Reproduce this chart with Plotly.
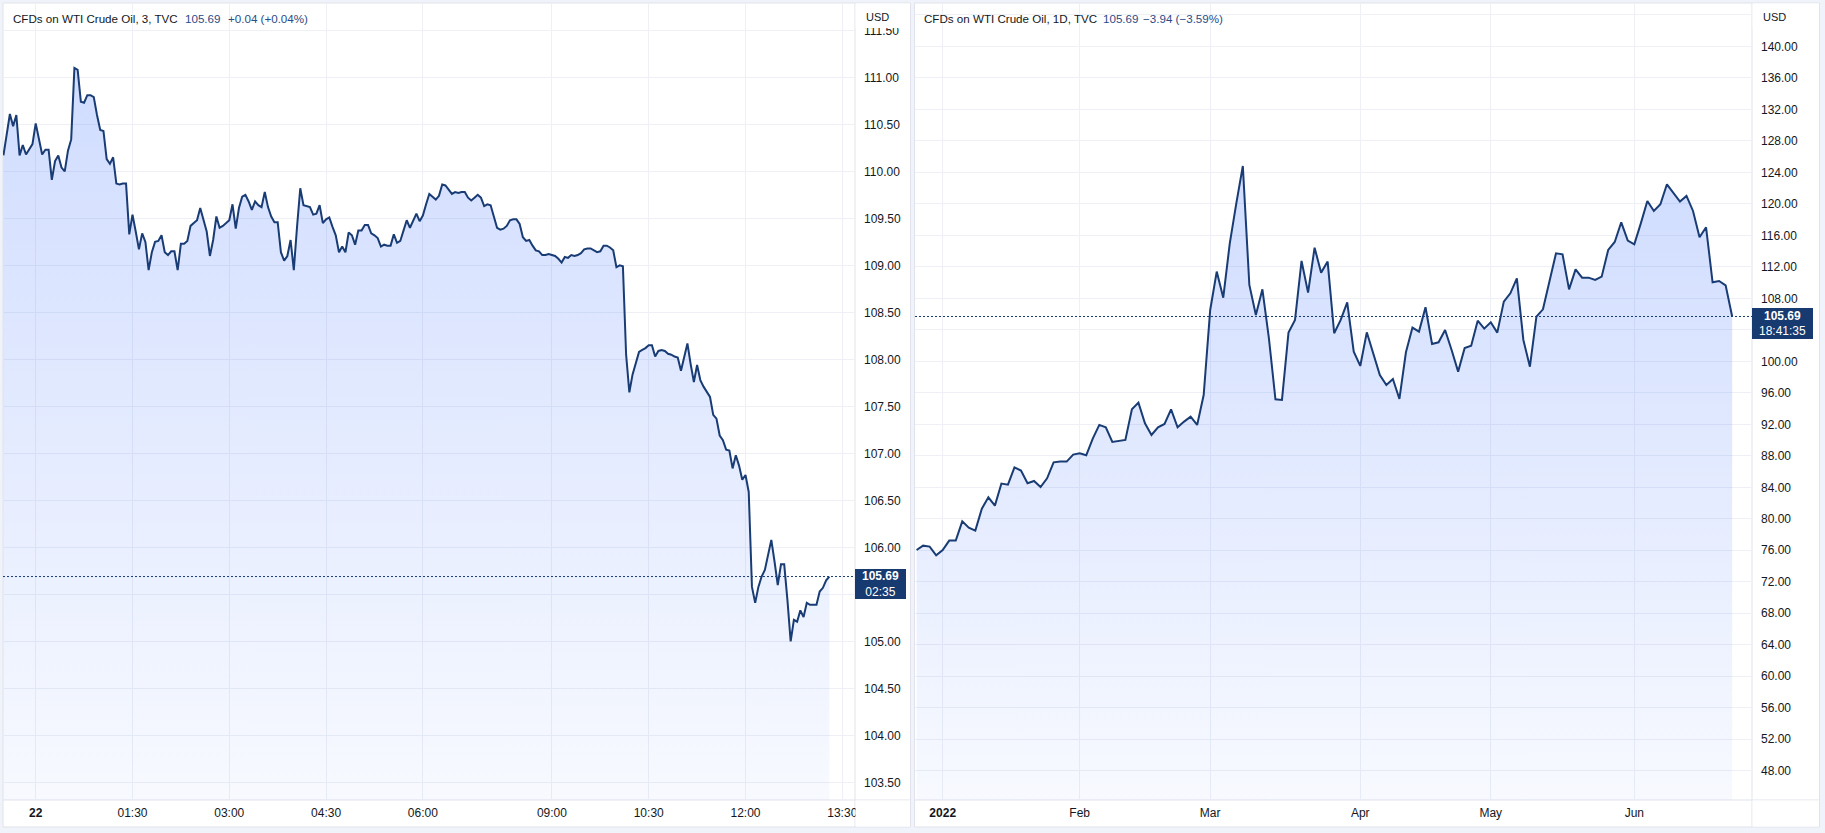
import plotly.graph_objects as go

W, H = 1825, 833

# ---------------- data ----------------
# Intraday 3-minute bars (bar index 0 = 00:00 on the 22nd)
intraday_price = [
    110.17, 110.40, 110.61, 110.48, 110.60, 110.17, 110.28, 110.18, 110.23, 110.29,
    110.51, 110.36, 110.18, 110.23, 110.23, 109.91, 110.11, 110.17, 110.04, 110.00,
    110.22, 110.34, 111.10, 111.08, 110.74, 110.73, 110.81, 110.81, 110.79, 110.60,
    110.44, 110.43, 110.13, 110.08, 110.15, 109.87, 109.86, 109.87, 109.87, 109.33,
    109.54, 109.36, 109.17, 109.34, 109.25, 108.95, 109.14, 109.25, 109.26, 109.32,
    109.14, 109.11, 109.15, 109.15, 108.95, 109.23, 109.23, 109.26, 109.42, 109.45,
    109.48, 109.61, 109.49, 109.36, 109.10, 109.27, 109.52, 109.40, 109.42, 109.45,
    109.48, 109.65, 109.39, 109.61, 109.73, 109.75, 109.68, 109.59, 109.68, 109.64,
    109.62, 109.78, 109.62, 109.52, 109.46, 109.46, 109.14, 109.05, 109.10, 109.27,
    108.95, 109.41, 109.82, 109.64, 109.63, 109.62, 109.54, 109.55, 109.64, 109.45,
    109.49, 109.51, 109.41, 109.32, 109.14, 109.20, 109.14, 109.35, 109.32, 109.22,
    109.37, 109.37, 109.43, 109.43, 109.34, 109.32, 109.29, 109.20, 109.22, 109.21,
    109.21, 109.33, 109.24, 109.26, 109.37, 109.48, 109.40, 109.47, 109.55, 109.47,
    109.53, 109.65, 109.76, 109.73, 109.70, 109.74, 109.86, 109.85, 109.80, 109.76,
    109.78, 109.77, 109.78, 109.78, 109.72, 109.69, 109.72, 109.75, 109.72, 109.63,
    109.65, 109.64, 109.52, 109.40, 109.38, 109.39, 109.42, 109.48, 109.49, 109.49,
    109.44, 109.30, 109.26, 109.27, 109.21, 109.16, 109.15, 109.11, 109.11, 109.12,
    109.11, 109.10, 109.07, 109.03, 109.09, 109.08, 109.11, 109.10, 109.11, 109.13,
    109.17, 109.18, 109.18, 109.16, 109.14, 109.15, 109.21, 109.21, 109.19, 109.16,
    108.98, 109.00, 108.99, 108.05, 107.65, 107.84, 107.96, 108.08, 108.10, 108.12,
    108.15, 108.15, 108.03, 108.09, 108.10, 108.09, 108.06, 108.05, 108.03, 108.02,
    107.88, 108.03, 108.17, 107.95, 107.76, 107.94, 107.78, 107.71, 107.66, 107.60,
    107.41, 107.37, 107.19, 107.14, 107.04, 107.03, 106.84, 106.98, 106.87, 106.72,
    106.77, 106.59, 105.58, 105.41, 105.58, 105.69, 105.76, 105.92, 106.08, 105.85,
    105.60, 105.82, 105.82, 105.44, 105.00, 105.23, 105.21, 105.33, 105.26, 105.41,
    105.39, 105.39, 105.39, 105.53, 105.57, 105.65, 105.69,
]
intraday_bar = list(range(-10, -10 + len(intraday_price)))
intraday_tick_bars = [0, 30, 60, 90, 120, 160, 190, 220, 250]
intraday_tick_labels = ["<b>22</b>", "01:30", "03:00", "04:30", "06:00", "09:00", "10:30", "12:00", "13:30"]
intraday_price_ticks = [103.5, 104.0, 104.5, 105.0, 105.5, 106.0, 106.5, 107.0, 107.5,
                        108.0, 108.5, 109.0, 109.5, 110.0, 110.5, 111.0, 111.5]
# tick labels covered by the last-price badge in the reference
intraday_hidden_ticks = [105.5]

# Daily bars (bar index 0 = first trading day of 2022)
daily_close = [
    76.04, 76.59, 76.47, 75.37,
    76.04, 77.23, 77.23, 79.68, 78.88, 78.50, 81.29, 82.73, 81.67, 84.47,
    84.34, 86.54, 86.12, 84.51, 84.80, 84.04, 85.14, 87.17, 87.26, 87.26,
    88.15, 88.32, 88.06, 90.18, 91.92, 91.62, 89.76, 89.93, 90.01, 93.90,
    94.75, 92.13, 90.65, 91.62, 92.04, 93.90, 91.62, 92.34, 92.97, 91.92,
    95.72, 106.52, 111.39, 108.08, 114.98, 120.06, 124.80, 109.69, 105.88, 109.14,
    102.92, 95.17, 95.09, 103.64, 105.25, 112.74, 108.72, 114.43, 111.26, 112.66,
    103.56, 105.25, 107.49, 101.23, 99.41, 103.68, 101.02, 98.26, 96.99, 97.76,
    95.22, 101.14, 104.28, 103.77, 106.86, 102.20, 102.41, 103.98, 101.44, 98.69,
    101.69, 101.99, 105.16, 104.15, 104.95, 103.64, 107.58, 108.63, 110.54, 102.71,
    99.32, 105.67, 106.60, 110.33, 113.71, 113.59, 109.14, 111.68, 110.62, 110.62,
    110.33, 110.75, 114.14, 115.15, 117.65, 115.32, 114.86, 117.52, 120.36, 119.09,
    119.94, 122.48, 121.42, 120.28, 121.00, 119.09, 115.75, 117.02, 110.03, 110.20,
    109.65, 105.69,
]
daily_bar = list(range(-4, -4 + len(daily_close)))
daily_tick_bars = [0, 21, 41, 64, 84, 106]
daily_tick_labels = ["<b>2022</b>", "Feb", "Mar", "Apr", "May", "Jun"]
daily_price_ticks = [48, 52, 56, 60, 64, 68, 72, 76, 80, 84, 88, 92, 96, 100, 104,
                     108, 112, 116, 120, 124, 128, 132, 136, 140, 144]
# tick labels covered by the badge / the currency header in the reference
daily_hidden_ticks = [104, 144]

last_price = 105.69
left_title = "CFDs on WTI Crude Oil, 3, TVC"
left_change = "+0.04 (+0.04%)"
left_countdown = "02:35"
right_title = "CFDs on WTI Crude Oil, 1D, TVC"
right_change = "\u22123.94 (\u22123.59%)"
right_countdown = "18:41:35"
currency = "USD"

# ---------------- styles ----------------
FONT = "Liberation Sans, Arial, sans-serif"
TXT = "#131722"
LINE = "#193c74"
VAL = "#2a4b86"
GRID = "#eef0f5"
BORDER = "#e0e3eb"
BG = "#f0f3fa"
TOPC = "rgba(41,98,255,0.22)"
BOTC = "rgba(41,98,255,0.035)"


def px(x):
    return x / W


def py(y):
    return 1 - y / H


fig = go.Figure()

L_YR = [103.313, 111.791]
R_YR = [44.29, 145.5]

fig.add_trace(go.Scatter(
    x=intraday_bar, y=intraday_price, mode="lines",
    line=dict(color=LINE, width=2), fill="tozeroy",
    fillgradient=dict(type="vertical", colorscale=[[0, BOTC], [1, TOPC]],
                      start=L_YR[0], stop=max(intraday_price)),
    xaxis="x", yaxis="y", hoverinfo="skip", showlegend=False))

fig.add_trace(go.Scatter(
    x=daily_bar, y=daily_close, mode="lines",
    line=dict(color=LINE, width=2), fill="tozeroy",
    fillgradient=dict(type="vertical", colorscale=[[0, BOTC], [1, TOPC]],
                      start=R_YR[0], stop=max(daily_close)),
    xaxis="x2", yaxis="y2", hoverinfo="skip", showlegend=False))

tickfont = dict(family=FONT, size=12, color=TXT)
ydom = [py(800), py(3)]

common_x = dict(showgrid=True, gridcolor=GRID, gridwidth=1, zeroline=False, showline=False,
                ticks="", tickfont=tickfont, ticklabelstandoff=4, automargin=False, fixedrange=True)
common_y = dict(showgrid=True, gridcolor=GRID, gridwidth=1, zeroline=False, showline=False,
                ticks="", side="right", tickfont=tickfont, ticklabelstandoff=8,
                automargin=False, fixedrange=True)


def labels(vals, hidden):
    return ["" if v in hidden else f"{v:.2f}" for v in vals]


fig.update_layout(
    width=W, height=H, margin=dict(l=0, r=0, t=0, b=0),
    paper_bgcolor=BG, plot_bgcolor="rgba(0,0,0,0)",
    xaxis=dict(domain=[px(3), px(855)], range=[-10.135, 253.94],
               tickmode="array", tickvals=intraday_tick_bars, ticktext=intraday_tick_labels,
               anchor="y", **common_x),
    yaxis=dict(domain=ydom, range=L_YR, tickmode="array", tickvals=intraday_price_ticks,
               ticktext=labels(intraday_price_ticks, intraday_hidden_ticks), anchor="x", **common_y),
    xaxis2=dict(domain=[px(915), px(1752)], range=[-4.245, 124.04],
                tickmode="array", tickvals=daily_tick_bars, ticktext=daily_tick_labels,
                anchor="y2", **common_x),
    yaxis2=dict(domain=ydom, range=R_YR, tickmode="array", tickvals=daily_price_ticks,
                ticktext=labels(daily_price_ticks, daily_hidden_ticks), anchor="x2", **common_y),
    showlegend=False,
)

shapes = []
# panel backgrounds + borders
for (x0, x1) in [(3, 910.5), (914.5, 1819.5)]:
    shapes.append(dict(type="rect", xref="paper", yref="paper", x0=px(x0), x1=px(x1),
                       y0=py(827), y1=py(3), fillcolor="white",
                       line=dict(color=BORDER, width=1), layer="below"))
# axis separators
for xs, xl, xr in [(855, 3, 910.5), (1752, 914.5, 1819.5)]:
    shapes.append(dict(type="line", xref="paper", yref="paper", x0=px(xs), x1=px(xs),
                       y0=py(827), y1=py(3), line=dict(color=BORDER, width=1), layer="below"))
    shapes.append(dict(type="line", xref="paper", yref="paper", x0=px(xl), x1=px(xr),
                       y0=py(800), y1=py(800), line=dict(color=BORDER, width=1), layer="below"))
# white covers over the price-scale header and the bottom-right corner cell
for x0, x1 in [(855.6, 910), (1752.6, 1819)]:
    shapes.append(dict(type="rect", xref="paper", yref="paper", x0=px(x0), x1=px(x1),
                       y0=py(28), y1=py(3.6), fillcolor="white", line=dict(width=0), layer="above"))
    shapes.append(dict(type="rect", xref="paper", yref="paper", x0=px(x0), x1=px(x1),
                       y0=py(826.5), y1=py(800.6), fillcolor="white", line=dict(width=0), layer="above"))
# last price dotted lines
shapes.append(dict(type="line", xref="x domain", yref="y", x0=0, x1=1, y0=last_price, y1=last_price,
                   line=dict(color=LINE, width=1, dash="2px,2px"), layer="above"))
shapes.append(dict(type="line", xref="x2 domain", yref="y2", x0=0, x1=1, y0=last_price, y1=last_price,
                   line=dict(color=LINE, width=1, dash="2px,2px"), layer="above"))
fig.update_layout(shapes=shapes)

ann = []
hfont = dict(family=FONT, size=11.6, color=TXT)
vfont = dict(family=FONT, size=11.6, color=VAL)


def text(x, y, t, font, xanchor="left"):
    ann.append(dict(xref="paper", yref="paper", x=px(x), y=py(y), text=t, showarrow=False,
                    xanchor=xanchor, yanchor="middle", font=font, borderpad=0))


# legends
text(12, 19, left_title, hfont)
text(184, 19, f"{last_price:.2f}", vfont)
text(227, 19, left_change, vfont)
text(923, 19, right_title, hfont)
text(1102, 19, f"{last_price:.2f}", vfont)
text(1142, 19, right_change, vfont)

text(865, 17, currency, dict(family=FONT, size=11, color=TXT))
text(1762, 17, currency, dict(family=FONT, size=11, color=TXT))

# price labels
pfont = dict(family=FONT, size=12, color="white")
ann.append(dict(xref="paper", yref="paper", x=px(855), y=py(569), xanchor="left", yanchor="top",
                text=f"<b>{last_price:.2f}</b><br>{left_countdown}", showarrow=False,
                bgcolor="#173a70", width=51, height=30, borderpad=0, borderwidth=0,
                align="center", font=pfont))
ann.append(dict(xref="paper", yref="paper", x=px(1752), y=py(308), xanchor="left", yanchor="top",
                text=f"<b>{last_price:.2f}</b><br>{right_countdown}", showarrow=False,
                bgcolor="#173a70", width=61, height=31, borderpad=0, borderwidth=0,
                align="center", font=pfont))

fig.update_layout(annotations=ann)

fig.write_html("out.html")
